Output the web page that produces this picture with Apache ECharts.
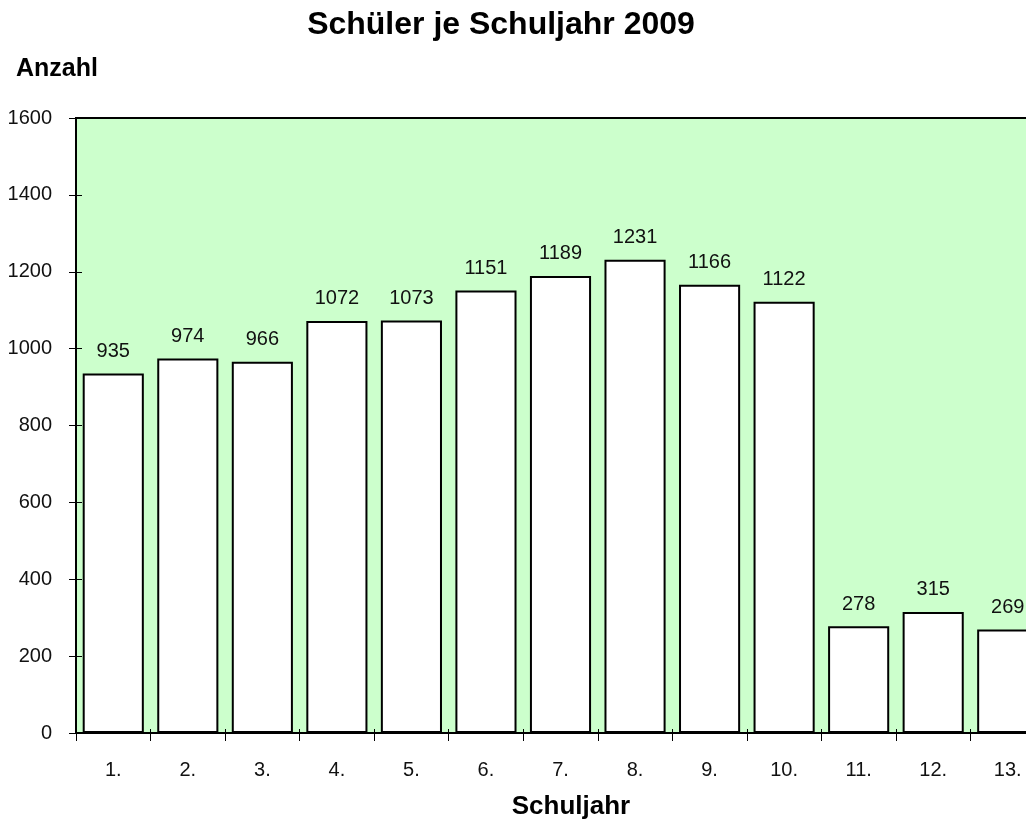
<!DOCTYPE html>
<html><head><meta charset="utf-8">
<script src="https://cdn.jsdelivr.net/npm/echarts@6/dist/echarts.min.js"></script>
<style>html,body{margin:0;padding:0;background:#fff;overflow:hidden;width:1026px;height:825px}#c{width:1045px;height:825px}</style>
</head><body><div id="c"></div>
<script>
const categories = ['1.','2.','3.','4.','5.','6.','7.','8.','9.','10.','11.','12.','13.'];
const values = [935,974,966,1072,1073,1151,1189,1231,1166,1122,278,315,269];
const yTicks = {min:0, max:1600, interval:200};
const F = 'Liberation Sans, Arial, sans-serif';
const chart = echarts.init(document.getElementById('c'), null, {renderer:'canvas'});
chart.setOption({
  animation:false,
  backgroundColor:'#fff',
  graphic:[
    {type:'text', x:501, y:25, style:{text:'Schüler je Schuljahr 2009', font:'bold 32px '+F, fill:'#000', textAlign:'center', textVerticalAlign:'middle'}},
    {type:'text', x:16, y:69, style:{text:'Anzahl', font:'bold 25px '+F, fill:'#000', textAlign:'left', textVerticalAlign:'middle'}},
    {type:'text', x:571, y:807, style:{text:'Schuljahr', font:'bold 26px '+F, fill:'#000', textAlign:'center', textVerticalAlign:'middle'}}
  ],
  grid:{left:76, top:118, bottom:92, right:0, show:true, backgroundColor:'#CCFFCC', borderColor:'#000', borderWidth:2, containLabel:false},
  xAxis:[{type:'category', data:categories,
    axisLine:{lineStyle:{color:'#000', width:2}},
    axisTick:{show:true, length:8, lineStyle:{color:'#000', width:1}},
    axisLabel:{fontFamily:F, fontSize:20, color:'#111', margin:27}},
    {type:'category', data:categories, position:'bottom', offset:0, z:5,
    axisLine:{show:false},
    axisTick:{show:true, inside:true, length:4, lineStyle:{color:'#000', width:1}},
    axisLabel:{show:false}}],
  yAxis:[{type:'value', min:yTicks.min, max:yTicks.max, interval:yTicks.interval,
    axisLine:{show:true, lineStyle:{color:'#000', width:2}},
    axisTick:{show:true, length:7, lineStyle:{color:'#000', width:1}},
    splitLine:{show:false},
    axisLabel:{fontFamily:F, fontSize:20, color:'#111', margin:24, formatter:function(v){return String(v);}}},
    {type:'value', position:'left', offset:0, z:5, min:yTicks.min, max:yTicks.max, interval:yTicks.interval,
    axisLine:{show:false},
    axisTick:{show:true, inside:true, length:6, lineStyle:{color:'#000', width:1}},
    splitLine:{show:false}, axisLabel:{show:false}}],
  series:[{type:'bar', data:values, barCategoryGap:'18%', xAxisIndex:0, yAxisIndex:0,
    itemStyle:{color:'#fff', borderColor:'#000', borderWidth:2},
    label:{show:true, position:'top', distance:12, fontFamily:F, fontSize:20, color:'#111'}}]
});
</script></body></html>
